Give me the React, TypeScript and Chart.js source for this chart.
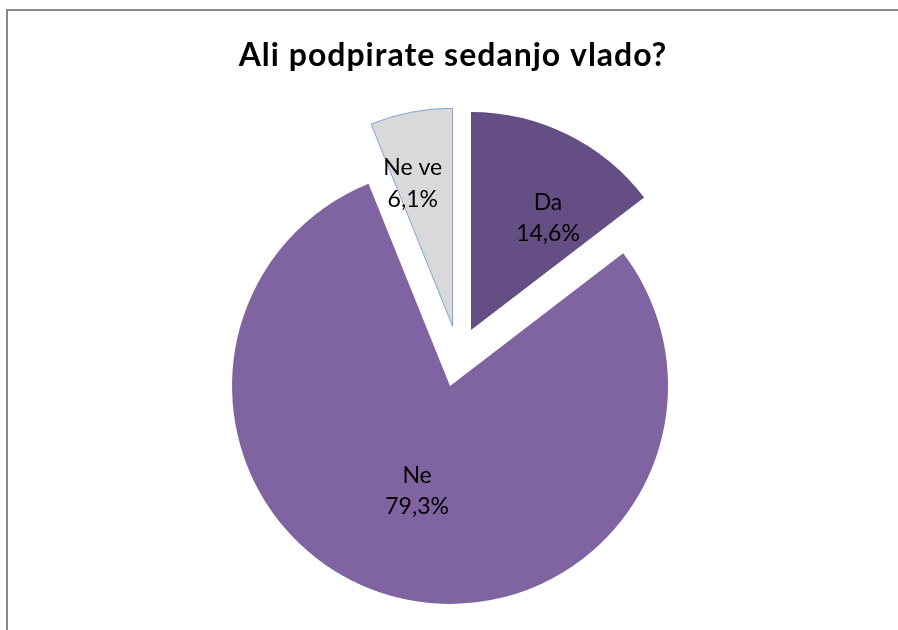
import React, { useEffect, useRef } from "react";
import { Chart, registerables, ArcElement } from "chart.js";

Chart.register(...registerables);

const TITLE = "Ali podpirate sedanjo vlado?";
const categories = ["Da", "Ne", "Ne ve"];
const values = [14.6, 79.3, 6.1];
const valueLabels = ["14,6%", "79,3%", "6,1%"];
const colors = ["#654e84", "#8064a2", "#d9d9d9"];
const borderColors = ["#654e84", "#8064a2", "#7ea4d6"];
const borderWidths = [0, 0, 1];
// explosion distance of each slice (pixels, along slice bisector)
const explodeDist = [28.7, 31.3, 30];
const labelRadiusFrac = [0.616, 0.514, 0.672];
const labelAngleShiftDeg = [8.7, 1.8, -4.8];

const FONT = "Lato, 'Open Sans', sans-serif";

class ExplodedArc extends (ArcElement as any) {
  static id = "explodedArc";
  draw(ctx: CanvasRenderingContext2D) {
    const ex = (this as any).$explode || 0;
    const half = ((this as any).startAngle + (this as any).endAngle) / 2;
    ctx.save();
    ctx.translate(Math.cos(half) * ex, Math.sin(half) * ex);
    super.draw(ctx);
    ctx.restore();
  }
}
Chart.register(ExplodedArc as any);
(Chart.defaults as any).datasets.pie.dataElementType = "explodedArc";

const explodePlugin = {
  id: "explodeSlices",
  beforeDatasetsDraw(chart: any) {
    const meta = chart.getDatasetMeta(0);
    meta.data.forEach((arc: any, i: number) => {
      arc.$explode = explodeDist[i];
    });
  },
};

const titlePlugin = {
  id: "customTitle",
  afterDraw(chart: any) {
    const ctx = chart.ctx;
    ctx.save();
    ctx.font = `bold 32px ${FONT}`;
    (ctx as any).letterSpacing = "1px";
    ctx.fillStyle = "#000000";
    ctx.textAlign = "center";
    ctx.textBaseline = "alphabetic";
    ctx.fillText(TITLE, 453, 65.5);
    ctx.restore();
  },
};

const labelPlugin = {
  id: "sliceLabels",
  afterDatasetsDraw(chart: any) {
    const ctx = chart.ctx;
    const meta = chart.getDatasetMeta(0);
    ctx.save();
    ctx.font = `23px ${FONT}`;
    ctx.fillStyle = "#000000";
    ctx.textAlign = "center";
    ctx.textBaseline = "alphabetic";
    meta.data.forEach((arc: any, i: number) => {
      const p = arc.getProps(["x", "y", "startAngle", "endAngle", "outerRadius"], true);
      const half = (p.startAngle + p.endAngle) / 2;
      const cx = p.x + Math.cos(half) * explodeDist[i];
      const cy = p.y + Math.sin(half) * explodeDist[i];
      const a = half + (labelAngleShiftDeg[i] * Math.PI) / 180;
      const r = p.outerRadius * labelRadiusFrac[i];
      const lx = cx + Math.cos(a) * r;
      const ly = cy + Math.sin(a) * r;
      ctx.fillText(categories[i], lx, ly - 10);
      ctx.fillText(valueLabels[i], lx, ly + 21.5);
    });
    ctx.restore();
  },
};

export default function App() {
  const ref = useRef<HTMLCanvasElement | null>(null);

  useEffect(() => {
    if (!ref.current) return;
    const chart = new Chart(ref.current, {
      type: "pie",
      data: {
        labels: categories,
        datasets: [
          {
            data: values,
            backgroundColor: colors,
            borderColor: borderColors,
            borderWidth: borderWidths,
            offset: 0,
            hoverOffset: 0,
            hoverBorderWidth: 0,
          } as any,
        ],
      },
      options: {
        animation: false,
        responsive: false,
        maintainAspectRatio: false,
        events: [],
        layout: { padding: { top: 137.2, bottom: 55.8, left: 18.6, right: 0 } },
        plugins: {
          legend: { display: false },
          title: { display: false },
          tooltip: { enabled: false },
        },
      },
      plugins: [explodePlugin, labelPlugin, titlePlugin],
    });
    return () => chart.destroy();
  }, []);

  return (
    <div
      style={{
        position: "fixed",
        left: 0,
        top: 0,
        width: 898,
        height: 630,
        overflow: "hidden",
        background: "#ffffff",
      }}
    >
      <div
        style={{
          position: "absolute",
          left: 6,
          top: 9,
          width: 1000,
          height: 1000,
          border: "2px solid #888888",
          boxSizing: "border-box",
        }}
      />
      <canvas
        ref={ref}
        width={898}
        height={630}
        style={{ position: "absolute", left: 0, top: 0, width: 898, height: 630 }}
      />
    </div>
  );
}
